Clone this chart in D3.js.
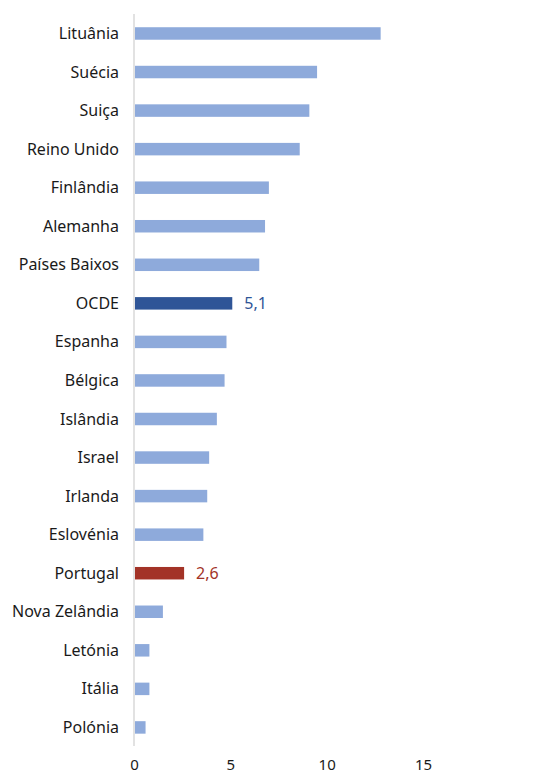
<!DOCTYPE html>
<html>
<head>
<meta charset="utf-8">
<script src="https://cdn.jsdelivr.net/npm/d3@7/dist/d3.min.js"></script>
<style>
  html, body { margin: 0; padding: 0; background: #ffffff; }
  svg { display: block; }
  text { font-family: "Noto Sans", "Open Sans", sans-serif; }
</style>
</head>
<body>
<svg id="chart" width="544" height="774"></svg>
<script>
// Countries, top to bottom
const countries = [
  "Lituânia", "Suécia", "Suiça", "Reino Unido", "Finlândia", "Alemanha",
  "Países Baixos", "OCDE", "Espanha", "Bélgica", "Islândia", "Israel",
  "Irlanda", "Eslovénia", "Portugal", "Nova Zelândia", "Letónia", "Itália", "Polónia"
];
const values = [
  12.8, 9.5, 9.1, 8.6, 7.0, 6.8,
  6.5, 5.1, 4.8, 4.7, 4.3, 3.9,
  3.8, 3.6, 2.6, 1.5, 0.8, 0.8, 0.6
];
const xTicks = [0, 5, 10, 15];
// Bars that get a colour of their own and a value label
const highlighted = ["OCDE", "Portugal"];

const colors = { base: "#8eaadb", OCDE: "#2f5597", Portugal: "#a33327" };
const labelColors = { OCDE: "#2f5597", Portugal: "#a33327" };
const fontSize = 16;

const svg = d3.select("#chart");
const data = countries.map((c, i) => ({ country: c, value: values[i] }));

const x = d3.scaleLinear().domain([0, 20]).range([134, 519.4]);
const y = d3.scaleBand().domain(countries).range([14.2, 746.7]).paddingInner(0.676).paddingOuter(0.338);

// Vertical category axis line
svg.append("line")
  .attr("x1", x(0)).attr("x2", x(0))
  .attr("y1", 14).attr("y2", 746)
  .attr("stroke", "#d9d9d9").attr("stroke-width", 1.5);

// Bars
svg.append("g").selectAll("rect")
  .data(data)
  .join("rect")
  .attr("x", x(0) + 1)
  .attr("y", d => y(d.country))
  .attr("width", d => x(d.value) - x(0) - 1)
  .attr("height", y.bandwidth())
  .attr("fill", d => colors[d.country] || colors.base);

// Category labels
svg.append("g").selectAll("text")
  .data(data)
  .join("text")
  .attr("x", 119)
  .attr("y", d => y(d.country) + y.bandwidth() / 2)
  .attr("dy", "0.35em")
  .attr("text-anchor", "end")
  .attr("font-size", fontSize)
  .attr("fill", "#1a1a1a")
  .text(d => d.country);

// Value labels on the highlighted bars
svg.append("g").selectAll("text")
  .data(data.filter(d => highlighted.includes(d.country)))
  .join("text")
  .attr("x", d => x(d.value) + 12)
  .attr("y", d => y(d.country) + y.bandwidth() / 2)
  .attr("dy", "0.35em")
  .attr("font-size", fontSize)
  .attr("fill", d => labelColors[d.country])
  .text(d => d3.format(".1f")(d.value).replace(".", ","));

// Value axis labels
const xAxis = d3.axisBottom(x).tickValues(xTicks).tickSize(0).tickPadding(0);
const gx = svg.append("g").attr("transform", "translate(0,769.5)").call(xAxis);
gx.select(".domain").remove();
gx.selectAll("text")
  .attr("font-size", 15)
  .attr("font-family", "\"Noto Sans\", \"Open Sans\", sans-serif")
  .attr("fill", "#1a1a1a")
  .attr("dy", 0)
  .attr("y", 0);
</script>
</body>
</html>
